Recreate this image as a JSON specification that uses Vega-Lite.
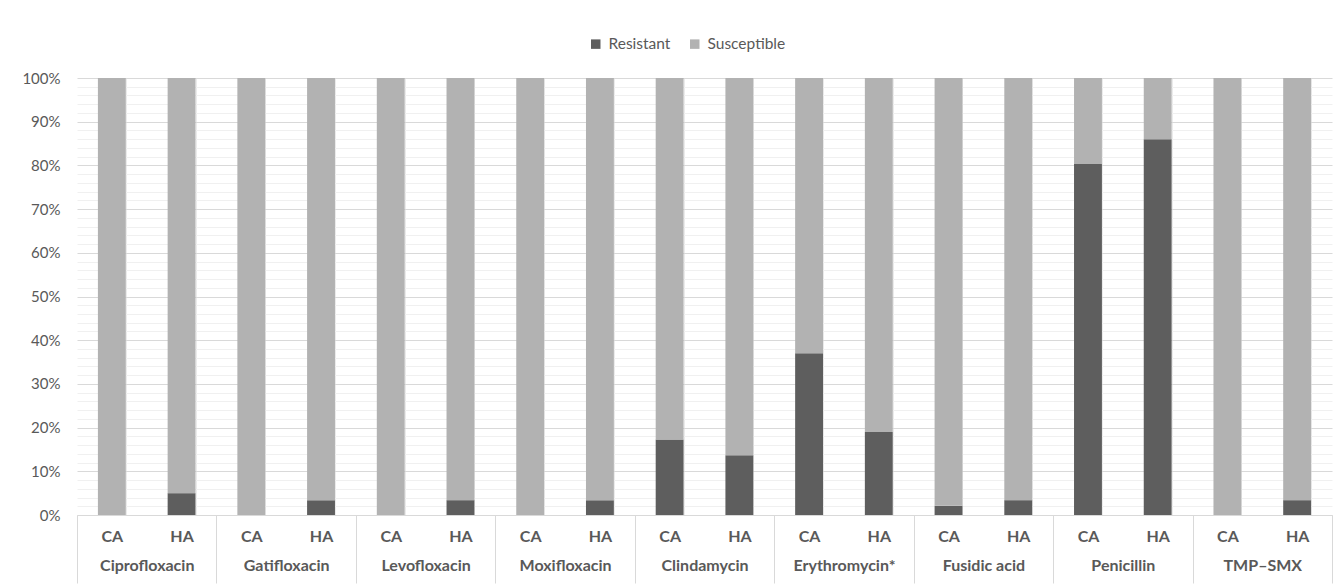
{
  "$schema": "https://vega.github.io/schema/vega-lite/v6.json",
  "autosize": "none",
  "width": 1255,
  "height": 437,
  "padding": {"left": 77, "top": 78, "right": 8, "bottom": 69},
  "background": "white",
  "config": {
    "view": {"stroke": null},
    "font": "Lato",
    "axis": {"labelFont": "Lato", "labelColor": "#595959", "labelFontSize": 15}
  },
  "data": {
    "values": [
      {"drug": "Ciprofloxacin", "grp": "CA", "cat": "Ciprofloxacin|CA", "status": "Resistant", "pct": 0.0},
      {"drug": "Ciprofloxacin", "grp": "CA", "cat": "Ciprofloxacin|CA", "status": "Susceptible", "pct": 1.0},
      {"drug": "Ciprofloxacin", "grp": "HA", "cat": "Ciprofloxacin|HA", "status": "Resistant", "pct": 0.05},
      {"drug": "Ciprofloxacin", "grp": "HA", "cat": "Ciprofloxacin|HA", "status": "Susceptible", "pct": 0.95},
      {"drug": "Gatifloxacin", "grp": "CA", "cat": "Gatifloxacin|CA", "status": "Resistant", "pct": 0.0},
      {"drug": "Gatifloxacin", "grp": "CA", "cat": "Gatifloxacin|CA", "status": "Susceptible", "pct": 1.0},
      {"drug": "Gatifloxacin", "grp": "HA", "cat": "Gatifloxacin|HA", "status": "Resistant", "pct": 0.034},
      {"drug": "Gatifloxacin", "grp": "HA", "cat": "Gatifloxacin|HA", "status": "Susceptible", "pct": 0.966},
      {"drug": "Levofloxacin", "grp": "CA", "cat": "Levofloxacin|CA", "status": "Resistant", "pct": 0.0},
      {"drug": "Levofloxacin", "grp": "CA", "cat": "Levofloxacin|CA", "status": "Susceptible", "pct": 1.0},
      {"drug": "Levofloxacin", "grp": "HA", "cat": "Levofloxacin|HA", "status": "Resistant", "pct": 0.034},
      {"drug": "Levofloxacin", "grp": "HA", "cat": "Levofloxacin|HA", "status": "Susceptible", "pct": 0.966},
      {"drug": "Moxifloxacin", "grp": "CA", "cat": "Moxifloxacin|CA", "status": "Resistant", "pct": 0.0},
      {"drug": "Moxifloxacin", "grp": "CA", "cat": "Moxifloxacin|CA", "status": "Susceptible", "pct": 1.0},
      {"drug": "Moxifloxacin", "grp": "HA", "cat": "Moxifloxacin|HA", "status": "Resistant", "pct": 0.034},
      {"drug": "Moxifloxacin", "grp": "HA", "cat": "Moxifloxacin|HA", "status": "Susceptible", "pct": 0.966},
      {"drug": "Clindamycin", "grp": "CA", "cat": "Clindamycin|CA", "status": "Resistant", "pct": 0.173},
      {"drug": "Clindamycin", "grp": "CA", "cat": "Clindamycin|CA", "status": "Susceptible", "pct": 0.827},
      {"drug": "Clindamycin", "grp": "HA", "cat": "Clindamycin|HA", "status": "Resistant", "pct": 0.137},
      {"drug": "Clindamycin", "grp": "HA", "cat": "Clindamycin|HA", "status": "Susceptible", "pct": 0.863},
      {"drug": "Erythromycin*", "grp": "CA", "cat": "Erythromycin*|CA", "status": "Resistant", "pct": 0.37},
      {"drug": "Erythromycin*", "grp": "CA", "cat": "Erythromycin*|CA", "status": "Susceptible", "pct": 0.63},
      {"drug": "Erythromycin*", "grp": "HA", "cat": "Erythromycin*|HA", "status": "Resistant", "pct": 0.19},
      {"drug": "Erythromycin*", "grp": "HA", "cat": "Erythromycin*|HA", "status": "Susceptible", "pct": 0.81},
      {"drug": "Fusidic acid", "grp": "CA", "cat": "Fusidic acid|CA", "status": "Resistant", "pct": 0.021},
      {"drug": "Fusidic acid", "grp": "CA", "cat": "Fusidic acid|CA", "status": "Susceptible", "pct": 0.979},
      {"drug": "Fusidic acid", "grp": "HA", "cat": "Fusidic acid|HA", "status": "Resistant", "pct": 0.034},
      {"drug": "Fusidic acid", "grp": "HA", "cat": "Fusidic acid|HA", "status": "Susceptible", "pct": 0.966},
      {"drug": "Penicillin", "grp": "CA", "cat": "Penicillin|CA", "status": "Resistant", "pct": 0.803},
      {"drug": "Penicillin", "grp": "CA", "cat": "Penicillin|CA", "status": "Susceptible", "pct": 0.197},
      {"drug": "Penicillin", "grp": "HA", "cat": "Penicillin|HA", "status": "Resistant", "pct": 0.86},
      {"drug": "Penicillin", "grp": "HA", "cat": "Penicillin|HA", "status": "Susceptible", "pct": 0.14},
      {"drug": "TMP–SMX", "grp": "CA", "cat": "TMP–SMX|CA", "status": "Resistant", "pct": 0.0},
      {"drug": "TMP–SMX", "grp": "CA", "cat": "TMP–SMX|CA", "status": "Susceptible", "pct": 1.0},
      {"drug": "TMP–SMX", "grp": "HA", "cat": "TMP–SMX|HA", "status": "Resistant", "pct": 0.034},
      {"drug": "TMP–SMX", "grp": "HA", "cat": "TMP–SMX|HA", "status": "Susceptible", "pct": 0.966}
    ]
  },
  "layer": [
    {
      "mark": {"type": "bar"},
      "encoding": {
        "x": {
          "field": "cat",
          "type": "nominal",
          "sort": null,
          "scale": {"type": "band", "paddingInner": 0.6, "paddingOuter": 0.3},
          "axis": {
            "orient": "bottom",
            "title": null,
            "labelExpr": "split(datum.value, '|')[1]",
            "labelAngle": 0,
            "labelFontWeight": "bold",
            "labelFontSize": 16,
            "labelPadding": 13,
            "ticks": false,
            "tickBand": "extent",
            "grid": true,
            "gridColor": "#ebebeb",
            "gridWidth": 1,
            "domain": true,
            "domainColor": "#d9d9d9",
            "domainWidth": 1
          }
        },
        "y": {
          "field": "pct",
          "type": "quantitative",
          "stack": "zero",
          "scale": {"domain": [0, 1], "nice": false},
          "axis": {
            "title": null,
            "format": ".0%",
            "tickCount": 50,
            "labelOverlap": false,
            "labelExpr": "round(datum.value * 100) % 10 === 0 ? datum.label : ''",
            "labelPadding": 17,
            "ticks": false,
            "domain": false,
            "grid": true,
            "gridColor": {"condition": {"test": "round(datum.value * 100) % 10 === 0", "value": "#d9d9d9"}, "value": "#f0f0f0"},
            "gridWidth": 1
          }
        },
        "color": {
          "field": "status",
          "type": "nominal",
          "scale": {"domain": ["Resistant", "Susceptible"], "range": ["#5e5e5e", "#b2b2b2"]},
          "legend": {
            "title": null,
            "orient": "none",
            "direction": "horizontal",
            "legendX": 511,
            "legendY": -42,
            "symbolType": "square",
            "symbolSize": 90,
            "symbolStrokeWidth": 0,
            "labelFont": "Lato",
            "labelFontSize": 15.5,
            "labelColor": "#595959",
            "labelOffset": 5,
            "columnPadding": 16
          }
        },
        "order": {"field": "status", "sort": "ascending"}
      }
    },
    {
      "mark": {"type": "rule", "strokeOpacity": 0},
      "encoding": {
        "x": {
          "field": "drug",
          "type": "nominal",
          "sort": ["Ciprofloxacin", "Gatifloxacin", "Levofloxacin", "Moxifloxacin", "Clindamycin", "Erythromycin*", "Fusidic acid", "Penicillin", "TMP–SMX"],
          "scale": {"type": "band", "paddingInner": 0, "paddingOuter": 0},
          "axis": {
            "orient": "bottom",
            "title": null,
            "labelAngle": 0,
            "labelFontWeight": "bold",
            "labelFontSize": 16,
            "labelPadding": -26,
            "ticks": true,
            "tickBand": "extent",
            "tickSize": 68,
            "tickColor": "#d9d9d9",
            "tickWidth": 1,
            "grid": false,
            "domain": false
          }
        }
      }
    }
  ],
  "resolve": {"scale": {"x": "independent"}}
}
